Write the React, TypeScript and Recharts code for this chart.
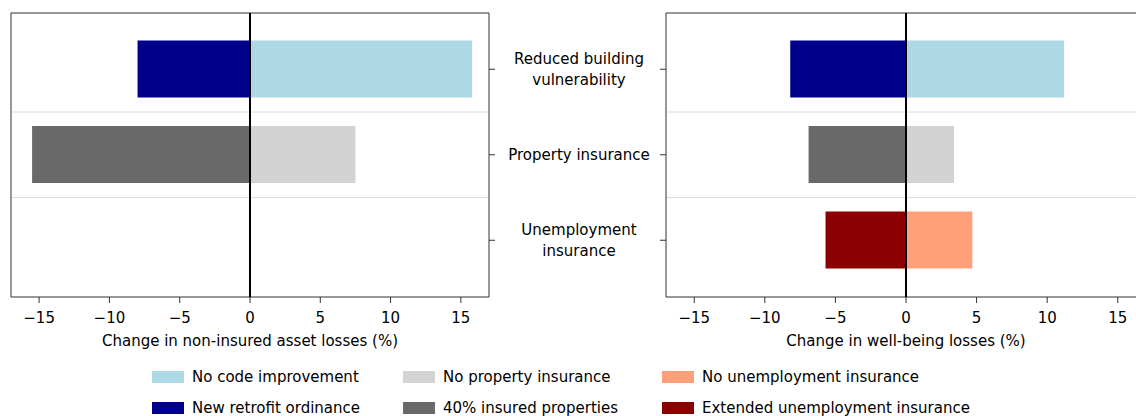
import { BarChart, Bar, Cell, XAxis, YAxis, CartesianGrid, ReferenceLine, Text } from "recharts";

const categories = ["Reduced building vulnerability", "Property insurance", "Unemployment insurance"];

// change in non-insured asset losses (%)
const assetBaseline = [15.8, 7.5, null];
const assetPolicy = [-8.0, -15.5, null];

// change in well-being losses (%)
const wellbeingBaseline = [11.2, 3.4, 4.7];
const wellbeingPolicy = [-8.2, -6.9, -5.7];

const xTicks = [-15, -10, -5, 0, 5, 10, 15];

const baselineNames = ["No code improvement", "No property insurance", "No unemployment insurance"];
const policyNames = ["New retrofit ordinance", "40% insured properties", "Extended unemployment insurance"];
const baselineColors = ["#add8e6", "#d3d3d3", "#ffa07a"];
const policyColors = ["#00008b", "#696969", "#8b0000"];

const FONT = "'DejaVu Sans', sans-serif";
const FRAME = "#333";
const PAD_TOP = 13.5;
const PAD_BOTTOM = 14;

const fmt = (v: number) => (v < 0 ? `\u2212${Math.abs(v)}` : `${v}`);

const assetData = categories.map((name, i) => ({ name, base: assetBaseline[i], policy: assetPolicy[i] }));
const wellbeingData = categories.map((name, i) => ({ name, base: wellbeingBaseline[i], policy: wellbeingPolicy[i] }));

// lines between category bands
const bandEdges = ({ offset }: any) => {
  const band = (offset.height - PAD_TOP - PAD_BOTTOM) / categories.length;
  return categories.slice(1).map((_, k) => offset.top + PAD_TOP + band * (k + 1));
};

// box around the plot area
const frameRows = ({ offset }: any) => [offset.top, offset.top + offset.height];
const frameCols = ({ offset }: any) => [offset.left, offset.left + offset.width];

// tick marks only, labels sit in the right panel
const BlankTick = () => <g />;

const CategoryTick = (props: any) => (
  <Text
    x={89}
    y={props.y}
    width={150}
    textAnchor="middle"
    verticalAnchor="middle"
    lineHeight="1.4em"
    fontSize={15}
    fill="#000"
  >
    {props.payload.value}
  </Text>
);

function Panel({ data, title, side }: { data: any[]; title: string; side: "left" | "right" }) {
  const left = side === "left";
  return (
    <BarChart
      width={left ? 500 : 656}
      height={350}
      data={data}
      layout="vertical"
      stackOffset="sign"
      margin={{ top: 13, right: 0, bottom: 4, left: left ? 11 : 0 }}
    >
      <CartesianGrid vertical={false} stroke="#dcdcdc" horizontalCoordinatesGenerator={bandEdges} />
      <CartesianGrid
        stroke={FRAME}
        horizontalCoordinatesGenerator={frameRows}
        verticalCoordinatesGenerator={frameCols}
      />
      <XAxis
        type="number"
        domain={[-17, 17]}
        ticks={xTicks}
        tickFormatter={fmt}
        tick={{ fontSize: 15, fill: "#000" }}
        tickLine={{ stroke: FRAME }}
        axisLine={false}
        tickSize={6}
        tickMargin={9}
        height={49}
        label={{ value: title, position: "insideBottom", offset: 0, fontSize: 15, fill: "#000" }}
      />
      <YAxis
        type="category"
        dataKey="name"
        orientation={left ? "right" : "left"}
        width={left ? 11 : 176}
        axisLine={false}
        tickLine={{ stroke: FRAME }}
        tickSize={6}
        padding={{ top: PAD_TOP, bottom: PAD_BOTTOM }}
        tick={left ? BlankTick : CategoryTick}
      />
      <Bar dataKey="policy" stackId="s" barSize={57} isAnimationActive={false}>
        {data.map((d, i) => (
          <Cell key={d.name} fill={policyColors[i]} />
        ))}
      </Bar>
      <Bar dataKey="base" stackId="s" barSize={57} isAnimationActive={false}>
        {data.map((d, i) => (
          <Cell key={d.name} fill={baselineColors[i]} />
        ))}
      </Bar>
      <ReferenceLine x={0} stroke="#000" strokeWidth={2} />
    </BarChart>
  );
}

const legendCols = [152, 403, 662];

function LegendRow({ top, names, colors }: { top: number; names: string[]; colors: string[] }) {
  return (
    <>
      {names.map((name, i) => (
        <div
          key={name}
          style={{
            position: "absolute",
            left: legendCols[i],
            top,
            height: 16,
            display: "flex",
            alignItems: "center",
            fontSize: 15,
            lineHeight: "16px",
            whiteSpace: "nowrap",
            color: "#000",
          }}
        >
          <span style={{ width: 32, height: 12, background: colors[i], marginRight: 8, display: "inline-block" }} />
          {name}
        </div>
      ))}
    </>
  );
}

export default function App() {
  return (
    <div
      style={{
        position: "fixed",
        left: 0,
        top: 0,
        width: 1136,
        height: 416,
        overflow: "hidden",
        background: "#fff",
        fontFamily: FONT,
      }}
    >
      <div style={{ position: "absolute", left: 0, top: 0 }}>
        <Panel data={assetData} title="Change in non-insured asset losses (%)" side="left" />
      </div>
      <div style={{ position: "absolute", left: 490, top: 0 }}>
        <Panel data={wellbeingData} title="Change in well-being losses (%)" side="right" />
      </div>
      <LegendRow top={369} names={baselineNames} colors={baselineColors} />
      <LegendRow top={400} names={policyNames} colors={policyColors} />
    </div>
  );
}
